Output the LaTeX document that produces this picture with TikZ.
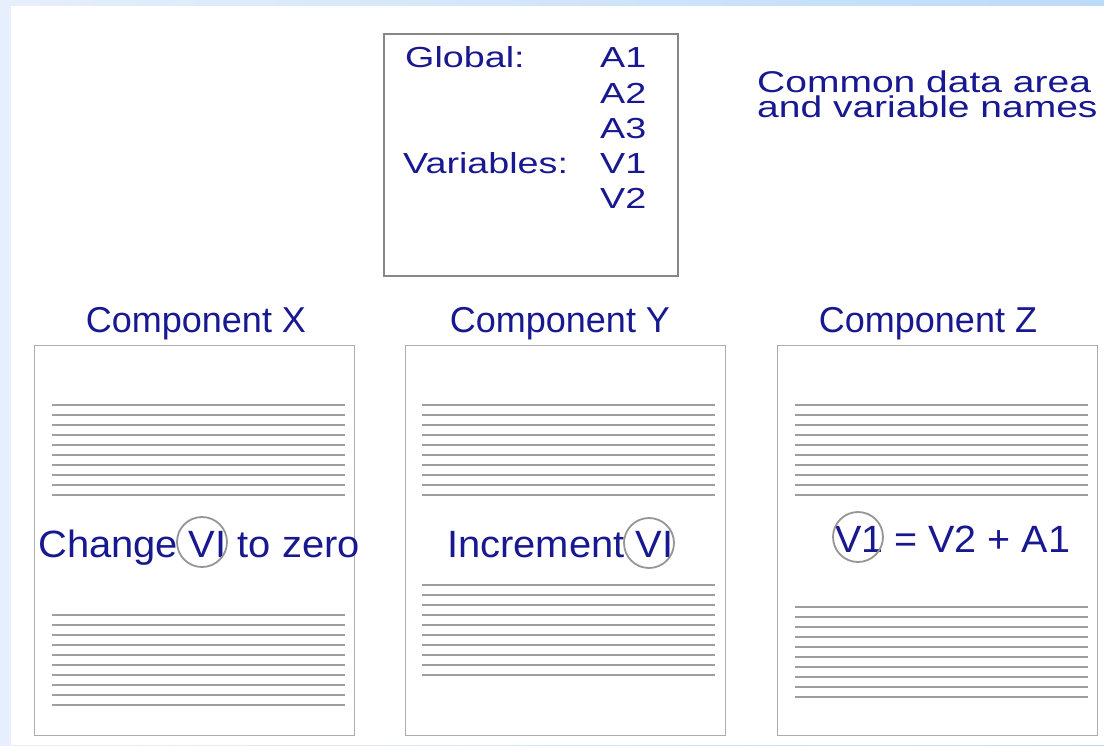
\documentclass[tikz,border=0pt]{standalone}
\usepackage{fontspec}
\setmainfont{Liberation Sans}
\usepackage{graphicx}
\definecolor{navy}{RGB}{24,24,144}
\definecolor{framegray}{RGB}{135,135,135}
\definecolor{boxgray}{RGB}{172,172,172}
\definecolor{rulegray}{RGB}{158,158,158}
\definecolor{ringgray}{RGB}{150,150,150}
\definecolor{bgleft}{RGB}{230,239,251}
\definecolor{bgright}{RGB}{188,219,248}
\begin{document}
\begin{tikzpicture}[x=1pt,y=-1pt,
  txt/.style={text=navy, inner sep=0pt},
  toptxt/.style={txt, anchor=base west, font=\fontsize{29}{33}\selectfont},
  notetxt/.style={txt, anchor=north west, align=left, font=\fontsize{30}{25}\selectfont},
  titletxt/.style={txt, anchor=base, font=\fontsize{36}{40}\selectfont},
  codetxt/.style={txt, anchor=base west, font=\fontsize{38}{42}\selectfont},
  compbox/.style={draw=boxgray, line width=1.3pt, minimum width=320pt, minimum height=390pt, anchor=north west, inner sep=0pt},
  rule/.style={draw=rulegray, line width=1.1pt},
  ring/.style={circle, draw=ringgray, line width=1.8pt, minimum size=50pt, inner sep=0pt},
]
\useasboundingbox (0,0) rectangle (1104,745);
\shade[left color=bgleft,right color=bgright] (0,0) rectangle (1104,745);
\fill[white] (11,6) rectangle (1104,745);

% common data area
\node[draw=framegray, line width=2pt, minimum width=294pt, minimum height=242pt, anchor=north west, inner sep=0pt] (glob) at (383,33) {};
\node[toptxt] (gl) at (405,67) {\scalebox{1.3}[1]{Global:}};
\node[toptxt] (va) at (403,173) {\scalebox{1.3}[1]{Variables:}};
\node[toptxt] (a1) at (600,67) {\scalebox{1.3}[1]{A1}};
\node[toptxt] (a2) at (600,103) {\scalebox{1.3}[1]{A2}};
\node[toptxt] (a3) at (600,138) {\scalebox{1.3}[1]{A3}};
\node[toptxt] (v1) at (600,173) {\scalebox{1.3}[1]{V1}};
\node[toptxt] (v2) at (600,208) {\scalebox{1.3}[1]{V2}};

\node[notetxt] (note) at (757,71) {\scalebox{1.3}[1]{Common data area}\\\scalebox{1.3}[1]{and variable names}};

% component titles
\node[titletxt] (tx) at (196,332) {Component X};
\node[titletxt] (ty) at (560,332) {Component Y};
\node[titletxt] (tz) at (928,332) {Component Z};

% component boxes
\node[compbox] (bx) at (34,345) {};
\node[compbox] (by) at (405,345) {};
\node[compbox] (bz) at (777,345) {};

% ruled lines
\foreach \y in {405,415,...,495} {
  \draw[rule] (52,\y) -- (345,\y);
  \draw[rule] (422,\y) -- (715,\y);
  \draw[rule] (795,\y) -- (1088,\y);
}
\foreach \y in {615,625,...,705} {
  \draw[rule] (52,\y) -- (345,\y);
}
\foreach \y in {585,595,...,675} {
  \draw[rule] (422,\y) -- (715,\y);
}
\foreach \y in {607,617,...,697} {
  \draw[rule] (795,\y) -- (1088,\y);
}

% code texts
\node[codetxt] (cxt) at (38,557) {\scalebox{1.05}[1]{Change VI to zero}};
\node[codetxt] (cyt) at (447,557) {\scalebox{1.05}[1]{Increment VI}};
\node[codetxt] (czt) at (835,552) {\scalebox{1.04}[1]{V1 = V2 + A1}};

% rings
\node[ring] (rx) at (202,542) {};
\node[ring] (ry) at (649,543) {};
\node[ring] (rz) at (858,537) {};
\end{tikzpicture}
\end{document}
